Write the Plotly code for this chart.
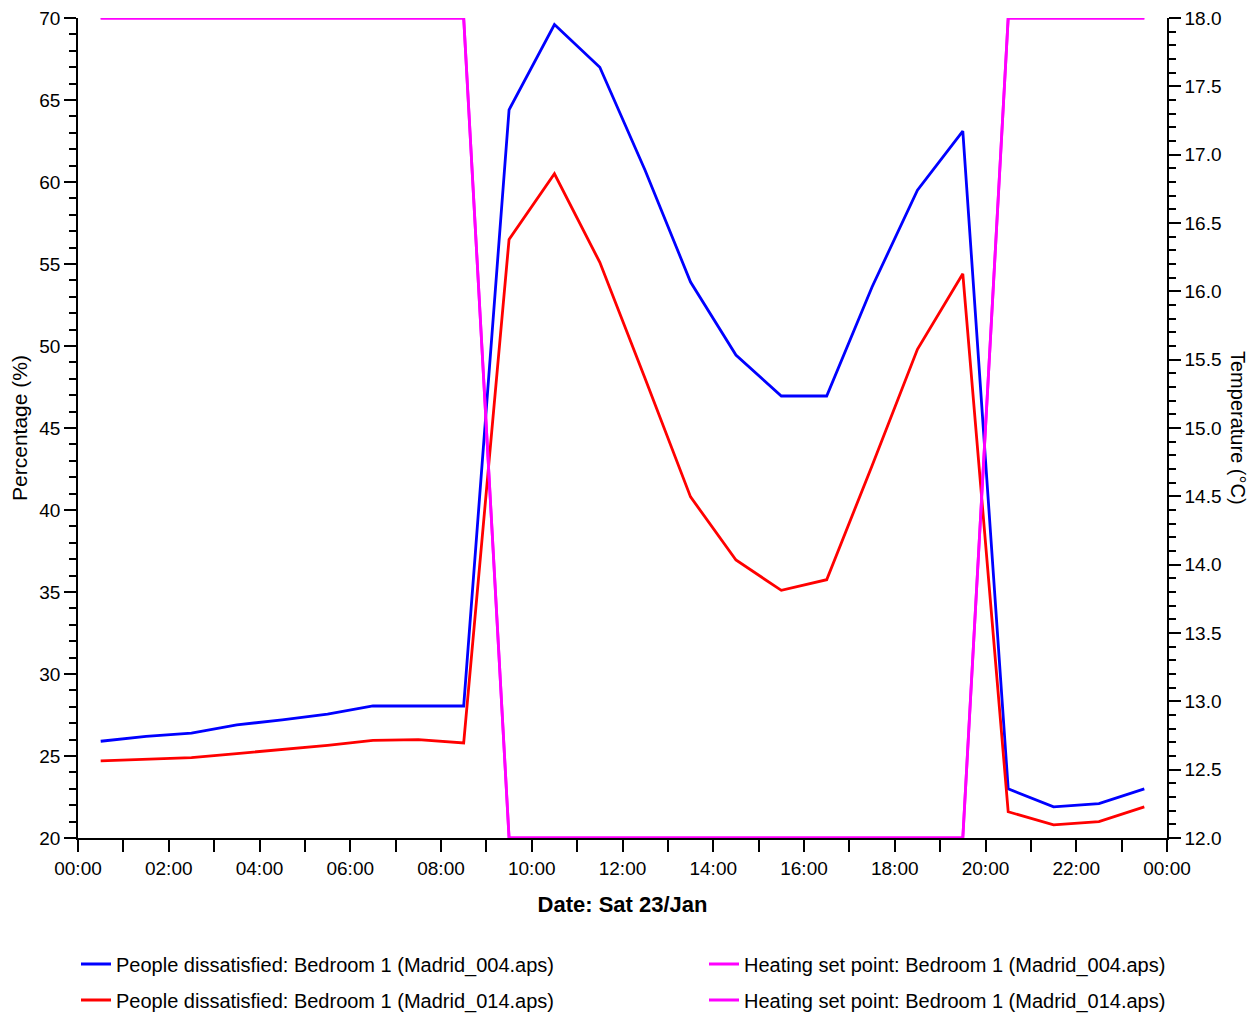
import plotly.graph_objects as go

# ---- data ----
times = ["00:30", "01:30", "02:30", "03:30", "04:30", "05:30", "06:30", "07:30",
         "08:30", "09:30", "10:30", "11:30", "12:30", "13:30", "14:30", "15:30",
         "16:30", "17:30", "18:30", "19:30", "20:30", "21:30", "22:30", "23:30"]
dissatisfied_004 = [25.9, 26.2, 26.4, 26.9, 27.2, 27.55, 28.05, 28.05, 28.05, 64.4, 69.6, 67.0,
                    60.7, 53.9, 49.45, 46.95, 46.95, 53.6, 59.5, 63.1, 23.0, 21.9, 22.1, 23.0]
dissatisfied_014 = [24.7, 24.8, 24.9, 25.15, 25.4, 25.65, 25.95, 26.0, 25.8, 56.5, 60.5, 55.1,
                    48.0, 40.8, 36.95, 35.1, 35.75, 42.7, 49.8, 54.4, 21.6, 20.8, 21.0, 21.9]
setpoint_004 = [18, 18, 18, 18, 18, 18, 18, 18, 18, 12, 12, 12,
                12, 12, 12, 12, 12, 12, 12, 12, 18, 18, 18, 18]
setpoint_014 = [18, 18, 18, 18, 18, 18, 18, 18, 18, 12, 12, 12,
                12, 12, 12, 12, 12, 12, 12, 12, 18, 18, 18, 18]

day = "2021-01-23"
x = [f"{day} {t}" for t in times]

FONT = "Liberation Sans, Arial, sans-serif"
LW = 2.8
fig = go.Figure()

fig.add_trace(go.Scatter(x=x, y=dissatisfied_004, mode="lines", line=dict(color="#0000FF", width=LW),
                         name="People dissatisfied: Bedroom 1 (Madrid_004.aps)", legend="legend"))
fig.add_trace(go.Scatter(x=x, y=setpoint_004, mode="lines", line=dict(color="#FF00FF", width=LW),
                         name="Heating set point: Bedroom 1 (Madrid_004.aps)", yaxis="y2", legend="legend2"))
fig.add_trace(go.Scatter(x=x, y=dissatisfied_014, mode="lines", line=dict(color="#FF0000", width=LW),
                         name="People dissatisfied: Bedroom 1 (Madrid_014.aps)", legend="legend3"))
fig.add_trace(go.Scatter(x=x, y=setpoint_014, mode="lines", line=dict(color="#FF00FF", width=LW),
                         name="Heating set point: Bedroom 1 (Madrid_014.aps)", yaxis="y2", legend="legend4"))

tickfont = dict(family=FONT, size=19, color="#000000")
leg_common = dict(orientation="h", xanchor="left", yanchor="middle",
                  font=dict(family=FONT, size=20, color="#000000"),
                  bgcolor="rgba(0,0,0,0)", borderwidth=0, itemclick=False)

# page has an 8px body margin; plot area target: x 78..1167, y 18..838 in the window
PLOT_H = 820
col1 = (76 - 78) / 1089
col2 = (704 - 78) / 1089
row1 = (838 - 964) / PLOT_H
row2 = (838 - 1000) / PLOT_H

fig.update_layout(
    width=1247, height=1006,
    margin=dict(l=70, r=88, t=10, b=176, autoexpand=False),
    paper_bgcolor="white", plot_bgcolor="white",
    showlegend=True,
    legend=dict(**leg_common, x=col1, y=row1),
    legend2=dict(**leg_common, x=col2, y=row1),
    legend3=dict(**leg_common, x=col1, y=row2),
    legend4=dict(**leg_common, x=col2, y=row2),
    xaxis=dict(
        type="date", automargin=False,
        range=[f"{day} 00:00", "2021-01-24 00:00"],
        dtick=7200000, tick0=f"{day} 00:00", tickformat="%H:%M",
        ticks="outside", ticklen=12, tickwidth=1.5, tickcolor="#000000",
        minor=dict(dtick=3600000, ticks="outside", ticklen=12, tickwidth=1.5, tickcolor="#000000"),
        showline=True, linecolor="#000000", linewidth=1.5,
        showgrid=False, zeroline=False,
        tickfont=tickfont, ticklabeloverflow="allow",
        title=dict(text="<b>Date: Sat 23/Jan</b>", font=dict(family=FONT, size=22, color="#000000"), standoff=19),
    ),
    yaxis=dict(
        range=[20, 70], dtick=5, tick0=20, automargin=False,
        ticks="outside", ticklen=12, tickwidth=1.5, tickcolor="#000000",
        minor=dict(dtick=1, ticks="outside", ticklen=7, tickwidth=1.5, tickcolor="#000000"),
        showline=True, linecolor="#000000", linewidth=1.5,
        showgrid=False, zeroline=False,
        tickfont=tickfont, ticklabeloverflow="allow",
        title=dict(text="Percentage (%)", font=dict(family=FONT, size=21, color="#000000"), standoff=6),
    ),
    yaxis2=dict(
        range=[12, 18], dtick=0.5, tick0=12, tickformat=".1f", automargin=False,
        overlaying="y", side="right",
        ticks="outside", ticklen=12, tickwidth=1.5, tickcolor="#000000",
        minor=dict(dtick=0.1, ticks="outside", ticklen=7, tickwidth=1.5, tickcolor="#000000"),
        showline=True, linecolor="#000000", linewidth=1.5,
        showgrid=False, zeroline=False,
        tickfont=tickfont, ticklabeloverflow="allow",
    ),
    annotations=[dict(text="Temperature (°C)", xref="paper", yref="paper", x=1, y=0.5,
                      xanchor="center", yanchor="middle", xshift=71, textangle=90, showarrow=False,
                      font=dict(family=FONT, size=20, color="#000000"))],
)

fig.write_html("out.html")
